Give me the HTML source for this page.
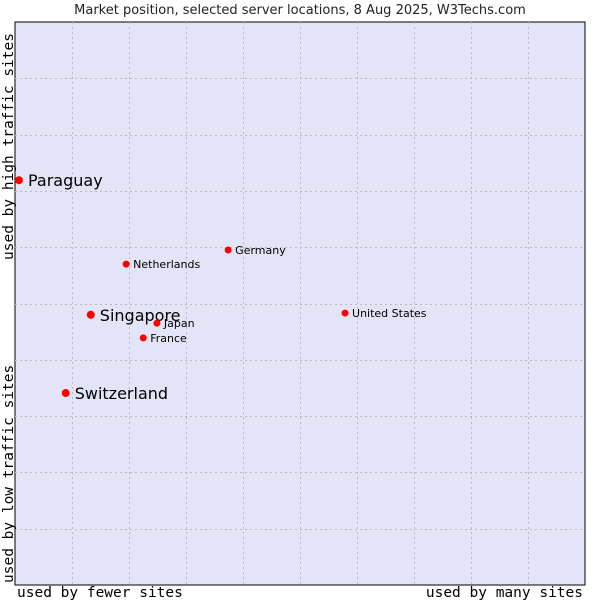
<!DOCTYPE html>
<html><head><meta charset="utf-8"><style>
body{margin:0;background:#fff;width:600px;height:600px;overflow:hidden}
svg text{font-family:"DejaVu Sans","Liberation Sans",sans-serif}
.mono{font-family:"DejaVu Sans Mono","Liberation Mono",monospace}
</style></head><body>
<svg id="chart" width="600" height="600">
<text x="300" y="14" text-anchor="middle" font-size="13" fill="#222">Market position, selected server locations, 8 Aug 2025, W3Techs.com</text>
<rect x="15" y="22" width="570" height="563" fill="#e4e4f8" stroke="#000" stroke-width="1"/>
<g id="grid"></g>
<g id="points"></g>
<text class="mono" x="17" y="597" font-size="14.5" fill="#000">used by fewer sites</text>
<text class="mono" x="583" y="597" text-anchor="end" font-size="14.5" fill="#000">used by many sites</text>
<text class="mono" transform="translate(13,583) rotate(-90)" font-size="14.5" fill="#000">used by low traffic sites</text>
<text class="mono" transform="translate(13,260) rotate(-90)" font-size="14.5" fill="#000">used by high traffic sites</text>
</svg>
<script>
const countries=["Paraguay","Netherlands","Germany","Singapore","Japan","France","United States","Switzerland"];
const xValues=[0.7,19.5,37.4,13.3,24.9,22.5,57.9,8.9];
const yValues=[71.9,57.0,59.5,48.0,46.5,43.9,48.3,34.1];
const highlighted=[true,false,false,true,false,false,false,true];
const L=15,T=22,W=570,H=563;
const sx=v=>L+v/100*W, sy=v=>T+H-v/100*H;
const NS="http://www.w3.org/2000/svg";
const g=document.getElementById('grid');
for(let i=1;i<10;i++){
 const a=document.createElementNS(NS,'line');
 
 
 a.setAttribute('x1',Math.round(sx(i*10))+.5);a.setAttribute('x2',Math.round(sx(i*10))+.5);
 a.setAttribute('y1',T);a.setAttribute('y2',T+H);
 a.setAttribute('stroke','#bbb');a.setAttribute('stroke-dasharray','2,3');g.appendChild(a);
 const b=document.createElementNS(NS,'line');
 
 
 b.setAttribute('y1',Math.round(sy(i*10))+.5);b.setAttribute('y2',Math.round(sy(i*10))+.5);
 b.setAttribute('x1',L);b.setAttribute('x2',L+W);
 b.setAttribute('stroke','#bbb');b.setAttribute('stroke-dasharray','2,3');g.appendChild(b);
}
const p=document.getElementById('points');
countries.forEach((c,i)=>{
 const x=sx(xValues[i]),y=sy(yValues[i]);
 const d=document.createElementNS(NS,'circle');
 
 
 d.setAttribute('cx',x);d.setAttribute('cy',y);d.setAttribute('r',highlighted[i]?4:3.5);
 d.setAttribute('fill','#f00');p.appendChild(d);
 const t=document.createElementNS(NS,'text');
 
 
 t.setAttribute('x',x+(highlighted[i]?9:7));t.setAttribute('y',y+(highlighted[i]?6:4));
 t.setAttribute('font-size',highlighted[i]?16:11);t.setAttribute('fill','#000');
 t.textContent=c;p.appendChild(t);
});
</script>
</body></html>
